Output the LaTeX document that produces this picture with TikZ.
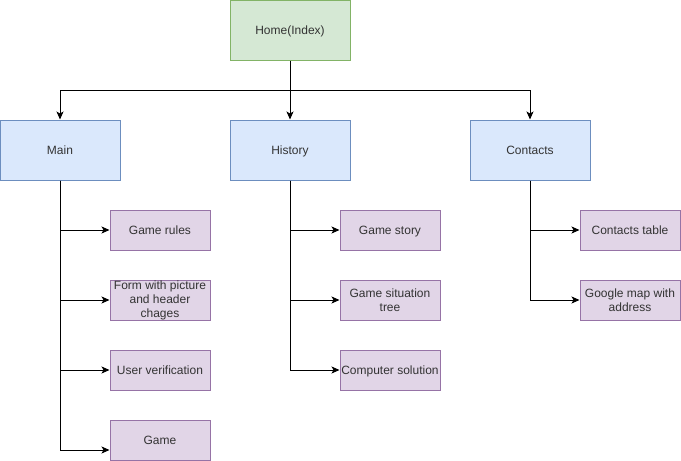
\documentclass[tikz,border=0pt]{standalone}
\usepackage{fontspec}
\setmainfont{Liberation Sans}
\usetikzlibrary{arrows.meta}
\definecolor{homefill}{HTML}{D5E8D4}
\definecolor{homedraw}{HTML}{82B366}
\definecolor{pagefill}{HTML}{DAE8FC}
\definecolor{pagedraw}{HTML}{6C8EBF}
\definecolor{itemfill}{HTML}{E1D5E7}
\definecolor{itemdraw}{HTML}{9673A6}
\begin{document}
\begin{tikzpicture}[x=1pt,y=-1pt,font=\fontsize{12}{14}\selectfont]
\useasboundingbox (0,0) rectangle (681,461);
\tikzset{onerow/.style={text height=9pt,text depth=0.5pt}};
\tikzset{homebox/.style={draw=homedraw,fill=homefill,line width=1pt,minimum width=120pt,minimum height=60pt,inner sep=0pt,onerow,text=black!80}};
\tikzset{pagebox/.style={draw=pagedraw,fill=pagefill,line width=1pt,minimum width=120pt,minimum height=60pt,inner sep=0pt,onerow,text=black!80}};
\tikzset{itembox/.style={draw=itemdraw,fill=itemfill,line width=1pt,minimum width=100pt,minimum height=40pt,inner sep=0pt,align=center,text=black!80}};
\tikzset{mystyle/.style={-{Stealth[length=8pt,width=7pt,inset=2pt]},line width=1pt}};

\node[homebox] (home) at (290, 30) {Home(Index)};
\node[pagebox] (main) at (60, 150) {Main};
\node[pagebox] (hist) at (290, 150) {History};
\node[pagebox] (cont) at (530, 150) {Contacts};

\node[itembox,onerow] (rules) at (160, 230) {Game rules};
\node[itembox] (form) at (160, 300) {Form with picture\\and header\\chages};
\node[itembox,onerow] (verif) at (160, 370) {User verification};
\node[itembox,onerow] (game) at (160, 440) {Game};

\node[itembox,onerow] (story) at (390, 230) {Game story};
\node[itembox] (tree) at (390, 300) {Game situation\\tree};
\node[itembox,onerow] (solv) at (390, 370) {Computer solution};

\node[itembox,onerow] (table) at (630, 230) {Contacts table};
\node[itembox] (gmap) at (630, 300) {Google map with\\address};

\coordinate (bus) at (290, 90);
\draw[line width=1pt] (home) -- (bus);
\draw[mystyle] (bus) -| (main);
\draw[mystyle] (bus) -- (hist);
\draw[mystyle] (bus) -| (cont);

\draw[mystyle] (main) |- (rules);
\draw[mystyle] (main) |- (form);
\draw[mystyle] (main) |- (verif);
\draw[mystyle] (main) |- ([yshift=-10pt]game.west);

\draw[mystyle] (hist) |- (story);
\draw[mystyle] (hist) |- (tree);
\draw[mystyle] (hist) |- (solv);

\draw[mystyle] (cont) |- (table);
\draw[mystyle] (cont) |- (gmap);
\end{tikzpicture}
\end{document}
